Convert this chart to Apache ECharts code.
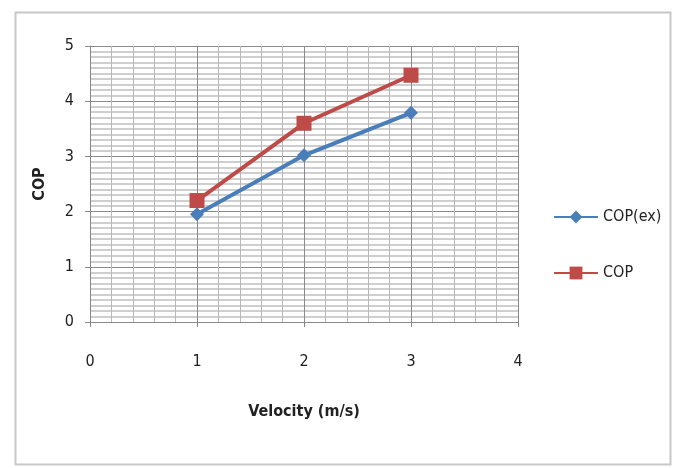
<!DOCTYPE html>
<html>
<head>
<meta charset="utf-8">
<script src="https://cdn.jsdelivr.net/npm/echarts@6/dist/echarts.min.js"></script>
<style>html,body{margin:0;padding:0;background:#fff}#c{width:678px;height:468px}</style>
</head>
<body>
<div id="c"></div>
<script>
const velocity = [1, 2, 3];
const copEx = [1.95, 3.02, 3.79];
const cop = [2.2, 3.6, 4.47];
const seriesNames = ['COP(ex)', 'COP'];

const font = "'Liberation Sans Narrow', 'DejaVu Sans Condensed', sans-serif";
const chart = echarts.init(document.getElementById('c'));
chart.setOption({
  animation: false,
  backgroundColor: '#fff',
  graphic: [{
    type: 'rect', left: 13, top: 10,
    shape: { width: 655, height: 452 },
    style: { fill: 'none', stroke: '#c8c8c8', lineWidth: 2 }
  }],
  legend: {
    orient: 'vertical', left: 548, top: 204, itemGap: 40,
    itemWidth: 44, itemHeight: 16,
    textStyle: { fontFamily: font, fontSize: 16, color: '#222' },
    data: seriesNames
  },
  grid: { left: 90, right: 160, top: 46, bottom: 146 },
  xAxis: {
    type: 'value', min: 0, max: 4, interval: 1,
    name: 'Velocity (m/s)', nameLocation: 'middle', nameGap: 82,
    nameTextStyle: { fontFamily: font, fontSize: 16, fontWeight: 'bold', color: '#222' },
    axisLine: { show: true, onZero: false, lineStyle: { color: '#888', width: 1 } },
    axisTick: { show: true, length: 5, lineStyle: { color: '#888' } },
    axisLabel: { margin: 32, fontFamily: font, fontSize: 16, color: '#222' },
    splitLine: { show: true, lineStyle: { color: '#8a8a8a', width: 1 } },
    minorTick: { show: false, splitNumber: 5 },
    minorSplitLine: { show: true, lineStyle: { color: '#b8b8b8', width: 1 } }
  },
  yAxis: {
    type: 'value', min: 0, max: 5, interval: 1,
    name: 'COP', nameLocation: 'middle', nameGap: 42,
    nameTextStyle: { fontFamily: font, fontSize: 16, fontWeight: 'bold', color: '#222' },
    axisLine: { show: true, lineStyle: { color: '#888', width: 1 } },
    axisTick: { show: true, length: 5, lineStyle: { color: '#888' } },
    axisLabel: { margin: 16, fontFamily: font, fontSize: 16, color: '#222' },
    splitLine: { show: true, lineStyle: { color: '#8a8a8a', width: 1 } },
    minorTick: { show: false, splitNumber: 10 },
    minorSplitLine: { show: true, lineStyle: { color: '#cfcfcf', width: 2 } }
  },
  series: [
    {
      name: seriesNames[0], type: 'line',
      data: velocity.map((v, i) => [v, copEx[i]]),
      symbol: 'diamond', symbolSize: 14,
      lineStyle: { color: '#4a7ebb', width: 4 },
      itemStyle: { color: '#4a7ebb' }
    },
    {
      name: seriesNames[1], type: 'line',
      data: velocity.map((v, i) => [v, cop[i]]),
      symbol: 'rect', symbolSize: 15,
      lineStyle: { color: '#be4b48', width: 4 },
      itemStyle: { color: '#be4b48' }
    }
  ]
});
</script>
</body>
</html>
